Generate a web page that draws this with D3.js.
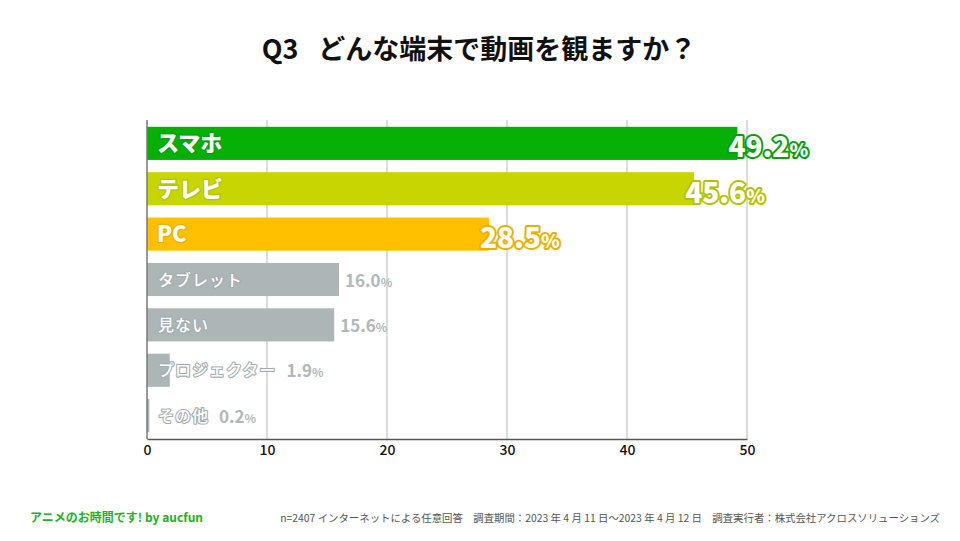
<!DOCTYPE html>
<html>
<head>
<meta charset="utf-8">
<script src="https://cdn.jsdelivr.net/npm/d3@7"></script>
<style>
  html, body { margin: 0; padding: 0; background: #fff; }
  svg { display: block; }
  text { font-family: "Noto Sans CJK JP", "Noto Sans", sans-serif; }
</style>
</head>
<body>
<svg id="chart" width="960" height="541"></svg>
<script>
const categories = ["スマホ", "テレビ", "PC", "タブレット", "見ない", "プロジェクター", "その他"];
const values = [49.2, 45.6, 28.5, 16.0, 15.6, 1.9, 0.2];
const highlight = [true, true, true, false, false, false, false];
const barColors = ["#06b006", "#c8d600", "#ffc000", "#adb6b7", "#adb6b7", "#adb6b7", "#adb6b7"];
const strokeColors = ["#0a9e0a", "#b5c200", "#eab000", "#a3acad", "#a3acad", "#a3acad", "#a3acad"];
const xTicks = [0, 10, 20, 30, 40, 50];
const titleQ = "Q3";
const titleText = "どんな端末で動画を観ますか？";
const footerLeft = "アニメのお時間です! by aucfun";
const footerRight = "n=2407 インターネットによる任意回答　調査期間：2023 年 4 月 11 日～2023 年 4 月 12 日　調査実行者：株式会社アクロスソリューションズ";

const svg = d3.select("#chart");
const x = d3.scaleLinear().domain([0, 50]).range([147, 747]);
const y = d3.scaleBand().domain(categories).range([120, 439]).paddingInner(0.27).paddingOuter(0.15);

// title
const tt = svg.append("text").attr("x", 479).attr("y", 59).attr("text-anchor", "middle")
  .attr("font-size", 27).attr("font-weight", 700).attr("fill", "#111");
tt.append("tspan").text(titleQ);
tt.append("tspan").attr("dx", 20).text(titleText);

// gridlines
svg.append("g").selectAll("line").data(xTicks.filter(d => d > 0)).join("line")
  .attr("x1", d => x(d)).attr("x2", d => x(d)).attr("y1", 120).attr("y2", 439)
  .attr("stroke", "#b8b8b8").attr("stroke-width", 1);

// bars
svg.append("g").selectAll("rect").data(categories).join("rect")
  .attr("x", x(0)).attr("y", d => y(d)).attr("width", (d, i) => x(values[i]) - x(0))
  .attr("height", y.bandwidth()).attr("fill", (d, i) => barColors[i]);

// left axis line
svg.append("line").attr("x1", x(0)).attr("x2", x(0)).attr("y1", 120).attr("y2", 439)
  .attr("stroke", "#777").attr("stroke-width", 1.5);

// bottom axis
const xAxis = d3.axisBottom(x).tickValues(xTicks).tickSize(0).tickPadding(6);
const ax = svg.append("g").attr("transform", "translate(0,439)").call(xAxis);
ax.select(".domain").attr("stroke", "#555").attr("stroke-width", 1.5);
ax.selectAll("text").attr("font-size", 14).attr("font-weight", 500).attr("fill", "#111")
  .attr("font-family", "'Noto Sans CJK JP', sans-serif");

// labels
const lab = svg.append("g");
categories.forEach((c, i) => {
  const cy = y(c) + y.bandwidth() / 2;
  const end = x(values[i]);
  if (highlight[i]) {
    lab.append("text").attr("x", 157).attr("y", cy + 8).attr("font-size", 22).attr("font-weight", 900)
      .attr("fill", "#fff").attr("stroke", strokeColors[i]).attr("stroke-width", 2.5)
      .attr("paint-order", "stroke").attr("stroke-linejoin", "round").text(c);
    const t = lab.append("text").attr("x", end - 9).attr("y", cy + 14).attr("font-weight", 900)
      .attr("fill", "#fff").attr("stroke", strokeColors[i]).attr("stroke-width", 4)
      .attr("paint-order", "stroke").attr("stroke-linejoin", "round");
    t.append("tspan").attr("font-size", 28).text(values[i].toFixed(1));
    t.append("tspan").attr("font-size", 19).text("%");
  } else {
    const l = lab.append("text").attr("x", 158).attr("y", cy + 6).attr("font-size", 16).attr("font-weight", 500)
      .attr("fill", "#fff").attr("stroke", strokeColors[i]).attr("stroke-width", 2.2)
      .attr("paint-order", "stroke").attr("stroke-linejoin", "round").attr("letter-spacing", 1).text(c);
    const lw = l.node().getComputedTextLength();
    const vx = Math.max(end + 6, 158 + lw + 10);
    const t = lab.append("text").attr("x", vx).attr("y", cy + 7).attr("font-weight", 700).attr("fill", "#b0b8b8");
    t.append("tspan").attr("font-size", 17).text(values[i].toFixed(1));
    t.append("tspan").attr("font-size", 12).text("%");
  }
});

// footer
svg.append("text").attr("x", 30).attr("y", 522).attr("font-size", 12).attr("font-weight", 700)
  .attr("fill", "#22b122").text(footerLeft);
svg.append("text").attr("x", 940).attr("y", 522).attr("text-anchor", "end").attr("font-size", 10.4)
  .attr("fill", "#555").text(footerRight);
</script>
</body>
</html>
